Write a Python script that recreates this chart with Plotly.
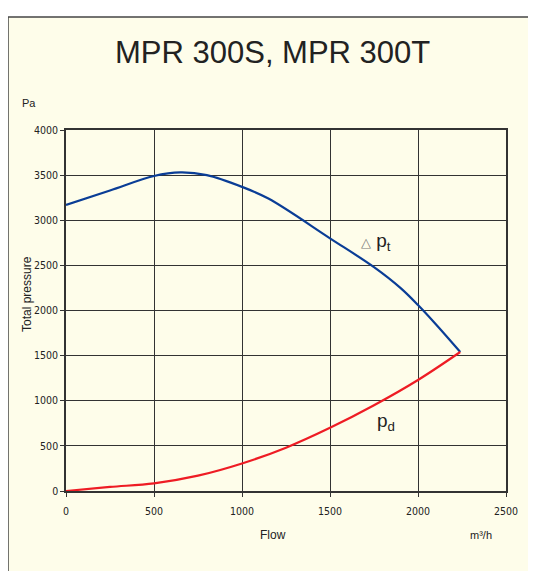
import plotly.graph_objects as go

flow_pt = [0, 250, 500, 650, 800, 1000, 1150, 1500, 1750, 1900, 2000, 2100, 2240]
pt = [3170, 3330, 3490, 3530, 3500, 3370, 3240, 2800, 2480, 2250, 2060, 1850, 1540]
flow_pd = [0, 250, 500, 750, 1000, 1250, 1500, 1750, 2000, 2240]
pd_ = [0, 45, 85, 170, 305, 480, 700, 950, 1230, 1540]

x_ticks = [0, 500, 1000, 1500, 2000, 2500]
y_ticks = [0, 500, 1000, 1500, 2000, 2500, 3000, 3500, 4000]

# page body has an 8px margin; figure is placed at (8, 8)
OFF = 8
L, T = 66 - OFF, 130 - OFF
PW, PH = 440, 361
W, H = 536 - OFF, 571 - OFF

def px(xp):
    return (xp - 66) / PW

def py(yp):
    return (491 - yp) / PH

tickfont = dict(family="DejaVu Sans Condensed, Liberation Sans Narrow, Liberation Sans, Arial", size=10.5, color="#222")
txt = "Liberation Sans, Arial"

def ann(text, x, y, size, **kw):
    return dict(text=text, xref="paper", yref="paper", x=px(x), y=py(y), xanchor="center", yanchor="middle",
                showarrow=False, font=dict(family=txt, size=size, color="#222"), **kw)

fig = go.Figure()
fig.add_trace(go.Scatter(x=flow_pt, y=pt, mode="lines", line=dict(color="#0a3d96", width=2.2, shape="spline"), showlegend=False))
fig.add_trace(go.Scatter(x=flow_pd, y=pd_, mode="lines", line=dict(color="#ee1c24", width=2.2, shape="spline"), showlegend=False))

fig.update_layout(
    width=W, height=H,
    margin=dict(l=L, r=W - L - PW, t=T, b=H - T - PH),
    paper_bgcolor="white", plot_bgcolor="#fefdea",
    shapes=[
        dict(type="rect", xref="paper", yref="paper", layer="below",
             x0=px(8), x1=px(600), y0=py(620), y1=py(17),
             line=dict(width=0), fillcolor="#fefdea"),
        dict(type="line", xref="paper", yref="paper", layer="below",
             x0=px(8), x1=px(600), y0=py(17), y1=py(17), line=dict(color="#444", width=1.5)),
        dict(type="line", xref="paper", yref="paper", layer="below",
             x0=px(8), x1=px(8), y0=py(17), y1=py(620), line=dict(color="#444", width=1.5)),
    ],
    annotations=[
        ann("MPR 300S, MPR 300T", 272, 52, 31),
        ann("Pa", 29, 103, 11),
        ann("Total pressure", 27, 294, 12, textangle=-90),
        ann("Flow", 273, 535, 12),
        ann("m³/h", 481, 535, 11),
        dict(text="<span style='font-size:13px;color:#777'>△</span> p<sub>t</sub>", x=1760, y=2760,
             showarrow=False, font=dict(family=txt, size=19, color="#222")),
        dict(text="p<sub>d</sub>", x=1820, y=770,
             showarrow=False, font=dict(family=txt, size=19, color="#222")),
    ],
    xaxis=dict(range=[0, 2500], tickvals=x_ticks, showgrid=True, gridcolor="#333", gridwidth=1,
               zeroline=False, showline=True, linecolor="#333", linewidth=1.5, mirror=True,
               ticks="outside", ticklen=4, tickcolor="#333", tickfont=tickfont, ticklabelstandoff=6),
    yaxis=dict(range=[0, 4000], tickvals=y_ticks, showgrid=True, gridcolor="#333", gridwidth=1,
               zeroline=False, showline=True, linecolor="#333", linewidth=1.5, mirror=True,
               ticks="outside", ticklen=4, tickcolor="#333", tickfont=tickfont),
)

fig.write_html("out.html")
